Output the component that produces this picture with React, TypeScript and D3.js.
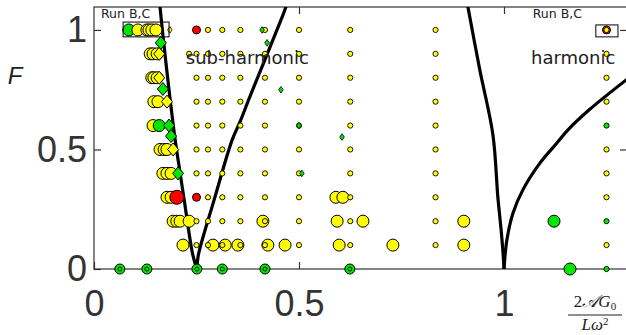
import { useRef, useEffect } from "react";
import * as d3 from "d3";

type Pt = [number, number];

// columns (2AG0 / Lω²) and rows (F) of the run grid
const gridX = [0.25, 0.278, 0.313, 0.357, 0.417, 0.5, 0.625, 0.833];
const gridF = [1, 0.9, 0.8, 0.7, 0.6, 0.5, 0.4, 0.3, 0.2, 0.1];
const gridSkip: Pt[] = [
  [0.25, 1],
  [0.25, 0.3],
];
const extraYellow: Pt[] = [
  [0.232, 0.9],
  [1.25, 1],
  [1.25, 0.9],
  [1.25, 0.8],
  [1.25, 0.7],
  [1.25, 0.5],
  [1.25, 0.4],
  [1.25, 0.3],
  [1.25, 0.1],
];
const smallGreen: Pt[] = [
  [1.25, 0.6],
  [1.25, 0.2],
  [1.25, 0],
];

const bigYellow: Pt[] = [
  [0.107, 1], [0.129, 1], [0.134, 1], [0.141, 1], [0.151, 1],
  [0.137, 0.9], [0.144, 0.9], [0.154, 0.9],
  [0.141, 0.8], [0.146, 0.8], [0.154, 0.8],
  [0.146, 0.7], [0.156, 0.7],
  [0.144, 0.6],
  [0.161, 0.5], [0.171, 0.5], [0.178, 0.5],
  [0.168, 0.4], [0.178, 0.4], [0.188, 0.4],
  [0.178, 0.3], [0.188, 0.3], [0.59, 0.3], [0.607, 0.3],
  [0.193, 0.2], [0.202, 0.2], [0.21, 0.2], [0.232, 0.2], [0.412, 0.2],
  [0.593, 0.2], [0.656, 0.2], [0.902, 0.2],
  [0.217, 0.1], [0.29, 0.1], [0.32, 0.1], [0.351, 0.1], [0.424, 0.1],
  [0.466, 0.1], [0.598, 0.1], [0.729, 0.1], [0.902, 0.1],
];
const bigGreen: Pt[] = [
  [0.085, 1],
  [0.159, 0.6],
  [1.122, 0.2],
  [1.161, 0],
];
const groundGreen = [0.063, 0.129, 0.251, 0.313, 0.417, 0.624];
const redBig: Pt[] = [[0.202, 0.3]];
const redSmall: Pt[] = [
  [0.25, 1],
  [0.25, 0.3],
  [1.25, 1],
];
const bigGreenDiamond: Pt[] = [
  [0.163, 0.946],
  [0.168, 0.753],
  [0.183, 0.6],
  [0.188, 0.556],
  [0.205, 0.4],
];
const bigYellowDiamond: Pt[] = [
  [0.159, 0.9],
  [0.159, 0.8],
  [0.178, 0.7],
  [0.193, 0.5],
];
const smallGreenDiamond: Pt[] = [
  [0.41, 1],
  [0.422, 0.946],
  [0.456, 0.75],
  [0.5, 0.6],
  [0.507, 0.4],
  [0.605, 0.552],
];
const smallYellowDiamond: Pt[] = [[0.185, 1]];

// stability boundaries
const tongueLeft: Pt[] = [
  [0.251, 0], [0.241, 0.059], [0.22, 0.289], [0.21, 0.402], [0.198, 0.54],
  [0.183, 0.749], [0.168, 0.979], [0.161, 1.096],
];
const tongueRight: Pt[] = [
  [0.251, 0], [0.254, 0.054], [0.293, 0.289], [0.337, 0.54], [0.356, 0.615],
  [0.38, 0.72], [0.461, 1.063], [0.468, 1.096],
];
const harmLeft: Pt[] = [
  [1.0, 0], [0.998, 0.059], [0.993, 0.163], [0.985, 0.301], [0.973, 0.561],
  [0.941, 0.833], [0.912, 1.096],
];
const harmRight: Pt[] = [
  [1.0, 0], [1.007, 0.121], [1.022, 0.234], [1.046, 0.331], [1.088, 0.444],
  [1.129, 0.527], [1.156, 0.582], [1.21, 0.669], [1.298, 0.791],
];

const xTicks = [0, 0.5, 1];
const yTicks = [0, 0.5, 1];

const YELLOW = "#ffff00";
const GREEN = "#00e600";
const RED = "#ff0000";

export default function App() {
  const svgRef = useRef<SVGSVGElement>(null);

  useEffect(() => {
    if (!svgRef.current) return;
    const svg = d3.select(svgRef.current);
    svg.selectAll("*").remove();

    const left = 94, right = 627, top = 7, bottom = 269;
    const x = d3.scaleLinear().domain([0, 1.3]).range([left, right]);
    const y = d3.scaleLinear().domain([0, 1.096]).range([bottom, top]);

    svg
      .append("clipPath")
      .attr("id", "plot-clip")
      .append("rect")
      .attr("x", left)
      .attr("y", top)
      .attr("width", right - left)
      .attr("height", bottom - top);

    // axes: labels from d3 axes, inward ticks
    const axisColor = "#333";
    const tickFont = "'Liberation Sans', Arial, sans-serif";

    const gx = svg
      .append("g")
      .attr("transform", `translate(0,${bottom})`)
      .call(
        d3.axisBottom(x).tickValues(xTicks).tickFormat(d3.format("")).tickSizeInner(-7).tickSizeOuter(0).tickPadding(21),
      );
    const gy = svg
      .append("g")
      .attr("transform", `translate(${left},0)`)
      .call(
        d3.axisLeft(y).tickValues(yTicks).tickFormat(d3.format("")).tickSizeInner(-7).tickSizeOuter(0).tickPadding(7),
      );
    svg
      .append("g")
      .attr("transform", `translate(0,${top})`)
      .call(d3.axisTop(x).tickValues([0.5, 1]).tickFormat(() => "").tickSizeInner(-7).tickSizeOuter(0));
    svg
      .append("g")
      .attr("transform", `translate(${right},0)`)
      .call(d3.axisRight(y).tickValues([0.5, 1]).tickFormat(() => "").tickSizeInner(-7).tickSizeOuter(0));

    svg.selectAll(".domain").remove();
    svg.selectAll(".tick line").attr("stroke", axisColor).attr("stroke-width", 1.2);
    [gx, gy].forEach((g) =>
      g
        .selectAll("text")
        .attr("fill", "#333")
        .style("font-family", tickFont)
        .style("font-size", "36px"),
    );

    svg
      .append("rect")
      .attr("x", left)
      .attr("y", top)
      .attr("width", right - left)
      .attr("height", bottom - top)
      .attr("fill", "none")
      .attr("stroke", axisColor)
      .attr("stroke-width", 1.2);

    // boundary curves
    const line = d3
      .line<Pt>()
      .x((d) => x(d[0]))
      .y((d) => y(d[1]))
      .curve(d3.curveCatmullRom);
    svg
      .append("g")
      .attr("clip-path", "url(#plot-clip)")
      .selectAll("path")
      .data([tongueLeft, tongueRight, harmLeft, harmRight])
      .join("path")
      .attr("d", (d) => line(d))
      .attr("fill", "none")
      .attr("stroke", "#000")
      .attr("stroke-width", 3.2)
      .attr("stroke-linecap", "round");

    const marks = svg.append("g");

    const circles = (pts: Pt[], r: number, fill: string, sw = 1) =>
      marks
        .append("g")
        .selectAll("circle")
        .data([...pts].sort((a, b) => a[0] - b[0]))
        .join("circle")
        .attr("cx", (d) => x(d[0]))
        .attr("cy", (d) => y(d[1]))
        .attr("r", r)
        .attr("fill", fill)
        .attr("stroke", "#000")
        .attr("stroke-width", sw);

    const diamonds = (pts: Pt[], w: number, h: number, fill: string, sw = 1) =>
      marks
        .append("g")
        .selectAll("path")
        .data(pts)
        .join("path")
        .attr("d", `M0,${-h}L${w},0L0,${h}L${-w},0Z`)
        .attr("transform", (d) => `translate(${x(d[0])},${y(d[1])})`)
        .attr("fill", fill)
        .attr("stroke", "#000")
        .attr("stroke-width", sw);

    // big markers first, left to right
    const bigMix = [
      ...bigYellow.map((d) => ({ p: d, c: YELLOW })),
      ...bigGreen.map((d) => ({ p: d, c: GREEN })),
    ].sort((a, b) => a.p[0] - b.p[0]);
    marks
      .append("g")
      .selectAll("circle")
      .data(bigMix)
      .join("circle")
      .attr("cx", (d) => x(d.p[0]))
      .attr("cy", (d) => y(d.p[1]))
      .attr("r", 6)
      .attr("fill", (d) => d.c)
      .attr("stroke", "#000")
      .attr("stroke-width", 1);

    circles(redBig, 7, RED);
    diamonds(bigYellowDiamond, 5.5, 6.5, YELLOW);
    diamonds(bigGreenDiamond, 5.5, 6.5, GREEN);
    circles(redSmall, 4, RED);

    // ground row runs
    const ground = marks
      .append("g")
      .selectAll("g")
      .data(groundGreen)
      .join("g")
      .attr("transform", (d) => `translate(${x(d)},${y(0)})`);
    ground.append("circle").attr("r", 5).attr("fill", GREEN).attr("stroke", "#000").attr("stroke-width", 1);
    ground.append("circle").attr("r", 2).attr("fill", GREEN).attr("stroke", "#000").attr("stroke-width", 0.9);

    const gridPts: Pt[] = [];
    gridF.forEach((f) =>
      gridX.forEach((gx0) => {
        if (!gridSkip.some((s) => s[0] === gx0 && s[1] === f)) gridPts.push([gx0, f]);
      }),
    );
    circles([...gridPts, ...extraYellow], 2.6, YELLOW, 0.9);
    circles(smallGreen, 2.6, GREEN, 0.9);
    diamonds(smallGreenDiamond, 2.3, 3.3, GREEN, 0.8);
    diamonds(smallYellowDiamond, 2.3, 3.3, YELLOW, 0.8);

    // Run B,C boxes
    const boxes = [
      { x0: 0.071, x1: 0.183, f0: 1.033, f1: 0.971 },
      { x0: 1.224, x1: 1.278, f0: 1.021, f1: 0.971 },
    ];
    svg
      .append("g")
      .selectAll("rect")
      .data(boxes)
      .join("rect")
      .attr("x", (d) => x(d.x0))
      .attr("y", (d) => y(d.f0))
      .attr("width", (d) => x(d.x1) - x(d.x0))
      .attr("height", (d) => y(d.f1) - y(d.f0))
      .attr("fill", "none")
      .attr("stroke", "#000")
      .attr("stroke-width", 1);

    const labelFont = "'DejaVu Sans', sans-serif";
    const notes = [
      { t: "Run B,C", x: 0.017, f: 1.05, size: 12.5 },
      { t: "Run B,C", x: 1.07, f: 1.05, size: 12.5 },
      { t: "sub-harmonic", x: 0.224, f: 0.858, size: 18 },
      { t: "harmonic", x: 1.066, f: 0.858, size: 18 },
    ];
    svg
      .append("g")
      .selectAll("text")
      .data(notes)
      .join("text")
      .attr("x", (d) => x(d.x))
      .attr("y", (d) => y(d.f))
      .attr("fill", "#222")
      .style("font-family", labelFont)
      .style("font-size", (d) => `${d.size}px`)
      .text((d) => d.t);

    // axis titles
    svg
      .append("text")
      .attr("x", 15)
      .attr("y", 84)
      .attr("text-anchor", "middle")
      .attr("fill", "#222")
      .style("font-family", tickFont)
      .style("font-style", "italic")
      .style("font-size", "24px")
      .text("F");

    const frac = svg.append("g").attr("transform", "translate(595,0)");
    const serif = "'Liberation Serif', 'DejaVu Serif', serif";
    const num = frac
      .append("text")
      .attr("y", 307)
      .attr("text-anchor", "middle")
      .attr("fill", "#222")
      .style("font-family", serif)
      .style("font-size", "17px");
    num.append("tspan").text("2");
    num.append("tspan").style("font-style", "italic").text("𝒜G");
    num.append("tspan").attr("dy", 3).style("font-size", "11px").text("0");
    frac
      .append("line")
      .attr("x1", -27)
      .attr("x2", 27)
      .attr("y1", 315)
      .attr("y2", 315)
      .attr("stroke", "#222")
      .attr("stroke-width", 1);
    const den = frac
      .append("text")
      .attr("y", 330)
      .attr("text-anchor", "middle")
      .attr("fill", "#222")
      .style("font-family", serif)
      .style("font-size", "17px");
    den.append("tspan").style("font-style", "italic").text("Lω");
    den.append("tspan").attr("dy", -5.5).style("font-size", "11px").text("2");
  }, []);

  return (
    <svg
      ref={svgRef}
      width={626}
      height={335}
      style={{ position: "absolute", left: 0, top: 0, background: "#fff" }}
    />
  );
}
